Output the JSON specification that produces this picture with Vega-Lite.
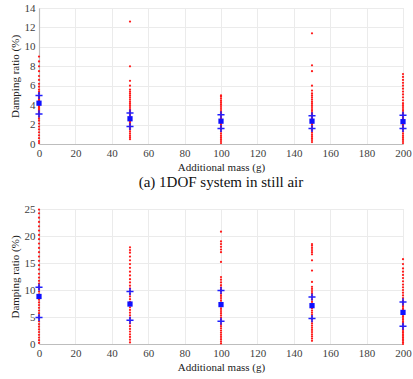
{
  "$schema": "https://vega.github.io/schema/vega-lite/v6.json",
  "padding": {"left": 8, "top": 1, "right": 10, "bottom": 0},
  "spacing": 11,
  "config": {"view": {"stroke": "#e6e6e6"}},
  "datasets": {
    "a": [
      {"m":0,"v":0.1,"k":"s"},{"m":0,"v":0.3,"k":"s"},{"m":0,"v":0.6,"k":"s"},{"m":0,"v":0.9,"k":"s"},{"m":0,"v":1.2,"k":"s"},{"m":0,"v":1.5,"k":"s"},{"m":0,"v":1.8,"k":"s"},{"m":0,"v":2.1,"k":"s"},{"m":0,"v":2.4,"k":"s"},{"m":0,"v":2.6,"k":"s"},{"m":0,"v":2.8,"k":"s"},{"m":0,"v":3.0,"k":"s"},{"m":0,"v":3.1,"k":"s"},{"m":0,"v":3.2,"k":"s"},{"m":0,"v":3.3,"k":"s"},{"m":0,"v":3.4,"k":"s"},{"m":0,"v":3.5,"k":"s"},{"m":0,"v":3.6,"k":"s"},{"m":0,"v":3.7,"k":"s"},{"m":0,"v":3.8,"k":"s"},{"m":0,"v":3.9,"k":"s"},{"m":0,"v":4.0,"k":"s"},{"m":0,"v":4.1,"k":"s"},{"m":0,"v":4.2,"k":"s"},{"m":0,"v":4.3,"k":"s"},{"m":0,"v":4.4,"k":"s"},{"m":0,"v":4.5,"k":"s"},{"m":0,"v":4.6,"k":"s"},{"m":0,"v":4.7,"k":"s"},{"m":0,"v":4.8,"k":"s"},{"m":0,"v":4.9,"k":"s"},{"m":0,"v":5.0,"k":"s"},{"m":0,"v":5.2,"k":"s"},{"m":0,"v":5.4,"k":"s"},{"m":0,"v":5.6,"k":"s"},{"m":0,"v":5.9,"k":"s"},{"m":0,"v":6.2,"k":"s"},{"m":0,"v":6.6,"k":"s"},{"m":0,"v":7.0,"k":"s"},{"m":0,"v":7.5,"k":"s"},{"m":0,"v":8.0,"k":"s"},{"m":0,"v":8.5,"k":"s"},{"m":0,"v":9.0,"k":"s"},
      {"m":50,"v":0.5,"k":"s"},{"m":50,"v":0.7,"k":"s"},{"m":50,"v":0.9,"k":"s"},{"m":50,"v":1.1,"k":"s"},{"m":50,"v":1.3,"k":"s"},{"m":50,"v":1.5,"k":"s"},{"m":50,"v":1.6,"k":"s"},{"m":50,"v":1.7,"k":"s"},{"m":50,"v":1.8,"k":"s"},{"m":50,"v":1.9,"k":"s"},{"m":50,"v":2.0,"k":"s"},{"m":50,"v":2.1,"k":"s"},{"m":50,"v":2.2,"k":"s"},{"m":50,"v":2.3,"k":"s"},{"m":50,"v":2.4,"k":"s"},{"m":50,"v":2.5,"k":"s"},{"m":50,"v":2.6,"k":"s"},{"m":50,"v":2.7,"k":"s"},{"m":50,"v":2.8,"k":"s"},{"m":50,"v":2.9,"k":"s"},{"m":50,"v":3.0,"k":"s"},{"m":50,"v":3.1,"k":"s"},{"m":50,"v":3.2,"k":"s"},{"m":50,"v":3.3,"k":"s"},{"m":50,"v":3.4,"k":"s"},{"m":50,"v":3.5,"k":"s"},{"m":50,"v":3.6,"k":"s"},{"m":50,"v":3.8,"k":"s"},{"m":50,"v":4.0,"k":"s"},{"m":50,"v":4.2,"k":"s"},{"m":50,"v":4.4,"k":"s"},{"m":50,"v":4.6,"k":"s"},{"m":50,"v":4.8,"k":"s"},{"m":50,"v":5.0,"k":"s"},{"m":50,"v":5.2,"k":"s"},{"m":50,"v":5.4,"k":"s"},{"m":50,"v":5.6,"k":"s"},{"m":50,"v":6.0,"k":"s"},{"m":50,"v":6.5,"k":"s"},{"m":50,"v":8.0,"k":"s"},{"m":50,"v":12.6,"k":"s"},
      {"m":100,"v":0.1,"k":"s"},{"m":100,"v":0.3,"k":"s"},{"m":100,"v":0.5,"k":"s"},{"m":100,"v":0.7,"k":"s"},{"m":100,"v":0.9,"k":"s"},{"m":100,"v":1.1,"k":"s"},{"m":100,"v":1.3,"k":"s"},{"m":100,"v":1.5,"k":"s"},{"m":100,"v":1.6,"k":"s"},{"m":100,"v":1.7,"k":"s"},{"m":100,"v":1.8,"k":"s"},{"m":100,"v":1.9,"k":"s"},{"m":100,"v":2.0,"k":"s"},{"m":100,"v":2.1,"k":"s"},{"m":100,"v":2.2,"k":"s"},{"m":100,"v":2.3,"k":"s"},{"m":100,"v":2.4,"k":"s"},{"m":100,"v":2.5,"k":"s"},{"m":100,"v":2.6,"k":"s"},{"m":100,"v":2.7,"k":"s"},{"m":100,"v":2.8,"k":"s"},{"m":100,"v":2.9,"k":"s"},{"m":100,"v":3.0,"k":"s"},{"m":100,"v":3.1,"k":"s"},{"m":100,"v":3.2,"k":"s"},{"m":100,"v":3.3,"k":"s"},{"m":100,"v":3.5,"k":"s"},{"m":100,"v":3.7,"k":"s"},{"m":100,"v":3.9,"k":"s"},{"m":100,"v":4.1,"k":"s"},{"m":100,"v":4.3,"k":"s"},{"m":100,"v":4.5,"k":"s"},{"m":100,"v":4.7,"k":"s"},{"m":100,"v":4.9,"k":"s"},{"m":100,"v":5.0,"k":"s"},
      {"m":150,"v":0.2,"k":"s"},{"m":150,"v":0.4,"k":"s"},{"m":150,"v":0.6,"k":"s"},{"m":150,"v":0.8,"k":"s"},{"m":150,"v":1.0,"k":"s"},{"m":150,"v":1.2,"k":"s"},{"m":150,"v":1.4,"k":"s"},{"m":150,"v":1.5,"k":"s"},{"m":150,"v":1.6,"k":"s"},{"m":150,"v":1.7,"k":"s"},{"m":150,"v":1.8,"k":"s"},{"m":150,"v":1.9,"k":"s"},{"m":150,"v":2.0,"k":"s"},{"m":150,"v":2.1,"k":"s"},{"m":150,"v":2.2,"k":"s"},{"m":150,"v":2.3,"k":"s"},{"m":150,"v":2.4,"k":"s"},{"m":150,"v":2.5,"k":"s"},{"m":150,"v":2.6,"k":"s"},{"m":150,"v":2.7,"k":"s"},{"m":150,"v":2.8,"k":"s"},{"m":150,"v":2.9,"k":"s"},{"m":150,"v":3.0,"k":"s"},{"m":150,"v":3.1,"k":"s"},{"m":150,"v":3.2,"k":"s"},{"m":150,"v":3.4,"k":"s"},{"m":150,"v":3.6,"k":"s"},{"m":150,"v":3.8,"k":"s"},{"m":150,"v":4.0,"k":"s"},{"m":150,"v":4.2,"k":"s"},{"m":150,"v":4.4,"k":"s"},{"m":150,"v":4.6,"k":"s"},{"m":150,"v":4.8,"k":"s"},{"m":150,"v":5.0,"k":"s"},{"m":150,"v":5.2,"k":"s"},{"m":150,"v":5.5,"k":"s"},{"m":150,"v":6.0,"k":"s"},{"m":150,"v":7.5,"k":"s"},{"m":150,"v":8.1,"k":"s"},{"m":150,"v":11.4,"k":"s"},
      {"m":200,"v":0.1,"k":"s"},{"m":200,"v":0.3,"k":"s"},{"m":200,"v":0.5,"k":"s"},{"m":200,"v":0.7,"k":"s"},{"m":200,"v":0.9,"k":"s"},{"m":200,"v":1.1,"k":"s"},{"m":200,"v":1.3,"k":"s"},{"m":200,"v":1.5,"k":"s"},{"m":200,"v":1.6,"k":"s"},{"m":200,"v":1.7,"k":"s"},{"m":200,"v":1.8,"k":"s"},{"m":200,"v":1.9,"k":"s"},{"m":200,"v":2.0,"k":"s"},{"m":200,"v":2.1,"k":"s"},{"m":200,"v":2.2,"k":"s"},{"m":200,"v":2.3,"k":"s"},{"m":200,"v":2.4,"k":"s"},{"m":200,"v":2.5,"k":"s"},{"m":200,"v":2.6,"k":"s"},{"m":200,"v":2.7,"k":"s"},{"m":200,"v":2.8,"k":"s"},{"m":200,"v":2.9,"k":"s"},{"m":200,"v":3.0,"k":"s"},{"m":200,"v":3.1,"k":"s"},{"m":200,"v":3.2,"k":"s"},{"m":200,"v":3.4,"k":"s"},{"m":200,"v":3.6,"k":"s"},{"m":200,"v":3.8,"k":"s"},{"m":200,"v":4.0,"k":"s"},{"m":200,"v":4.2,"k":"s"},{"m":200,"v":4.5,"k":"s"},{"m":200,"v":4.8,"k":"s"},{"m":200,"v":5.1,"k":"s"},{"m":200,"v":5.4,"k":"s"},{"m":200,"v":5.7,"k":"s"},{"m":200,"v":6.0,"k":"s"},{"m":200,"v":6.3,"k":"s"},{"m":200,"v":6.6,"k":"s"},{"m":200,"v":6.9,"k":"s"},{"m":200,"v":7.2,"k":"s"},
      {"m":0,"v":4.2,"k":"mean"},{"m":0,"v":5.0,"k":"std"},{"m":0,"v":3.1,"k":"std"},
      {"m":50,"v":2.6,"k":"mean"},{"m":50,"v":3.2,"k":"std"},{"m":50,"v":1.8,"k":"std"},
      {"m":100,"v":2.35,"k":"mean"},{"m":100,"v":3.0,"k":"std"},{"m":100,"v":1.6,"k":"std"},
      {"m":150,"v":2.35,"k":"mean"},{"m":150,"v":2.9,"k":"std"},{"m":150,"v":1.6,"k":"std"},
      {"m":200,"v":2.3,"k":"mean"},{"m":200,"v":2.95,"k":"std"},{"m":200,"v":1.6,"k":"std"}
    ],
    "b": [
      {"m":0,"v":0.2,"k":"s"},{"m":0,"v":0.7,"k":"s"},{"m":0,"v":1.2,"k":"s"},{"m":0,"v":1.7,"k":"s"},{"m":0,"v":2.2,"k":"s"},{"m":0,"v":2.7,"k":"s"},{"m":0,"v":3.2,"k":"s"},{"m":0,"v":3.7,"k":"s"},{"m":0,"v":4.2,"k":"s"},{"m":0,"v":4.7,"k":"s"},{"m":0,"v":5.2,"k":"s"},{"m":0,"v":5.7,"k":"s"},{"m":0,"v":6.2,"k":"s"},{"m":0,"v":6.7,"k":"s"},{"m":0,"v":7.2,"k":"s"},{"m":0,"v":7.7,"k":"s"},{"m":0,"v":8.2,"k":"s"},{"m":0,"v":8.7,"k":"s"},{"m":0,"v":9.2,"k":"s"},{"m":0,"v":9.7,"k":"s"},{"m":0,"v":10.2,"k":"s"},{"m":0,"v":10.7,"k":"s"},{"m":0,"v":11.2,"k":"s"},{"m":0,"v":11.7,"k":"s"},{"m":0,"v":12.3,"k":"s"},{"m":0,"v":13.0,"k":"s"},{"m":0,"v":13.8,"k":"s"},{"m":0,"v":14.6,"k":"s"},{"m":0,"v":15.4,"k":"s"},{"m":0,"v":16.2,"k":"s"},{"m":0,"v":17.0,"k":"s"},{"m":0,"v":17.8,"k":"s"},{"m":0,"v":18.6,"k":"s"},{"m":0,"v":19.4,"k":"s"},{"m":0,"v":20.2,"k":"s"},{"m":0,"v":21.0,"k":"s"},{"m":0,"v":21.8,"k":"s"},{"m":0,"v":22.6,"k":"s"},{"m":0,"v":23.4,"k":"s"},{"m":0,"v":24.2,"k":"s"},{"m":0,"v":24.9,"k":"s"},
      {"m":50,"v":0.3,"k":"s"},{"m":50,"v":0.8,"k":"s"},{"m":50,"v":1.3,"k":"s"},{"m":50,"v":1.8,"k":"s"},{"m":50,"v":2.3,"k":"s"},{"m":50,"v":2.8,"k":"s"},{"m":50,"v":3.3,"k":"s"},{"m":50,"v":3.8,"k":"s"},{"m":50,"v":4.3,"k":"s"},{"m":50,"v":4.8,"k":"s"},{"m":50,"v":5.3,"k":"s"},{"m":50,"v":5.8,"k":"s"},{"m":50,"v":6.3,"k":"s"},{"m":50,"v":6.8,"k":"s"},{"m":50,"v":7.3,"k":"s"},{"m":50,"v":7.8,"k":"s"},{"m":50,"v":8.3,"k":"s"},{"m":50,"v":8.8,"k":"s"},{"m":50,"v":9.3,"k":"s"},{"m":50,"v":9.8,"k":"s"},{"m":50,"v":10.3,"k":"s"},{"m":50,"v":10.8,"k":"s"},{"m":50,"v":11.4,"k":"s"},{"m":50,"v":12.0,"k":"s"},{"m":50,"v":12.7,"k":"s"},{"m":50,"v":13.4,"k":"s"},{"m":50,"v":14.1,"k":"s"},{"m":50,"v":14.8,"k":"s"},{"m":50,"v":15.5,"k":"s"},{"m":50,"v":16.2,"k":"s"},{"m":50,"v":16.9,"k":"s"},{"m":50,"v":17.4,"k":"s"},{"m":50,"v":17.9,"k":"s"},
      {"m":100,"v":0.1,"k":"s"},{"m":100,"v":0.5,"k":"s"},{"m":100,"v":0.9,"k":"s"},{"m":100,"v":1.3,"k":"s"},{"m":100,"v":1.7,"k":"s"},{"m":100,"v":2.1,"k":"s"},{"m":100,"v":2.5,"k":"s"},{"m":100,"v":2.9,"k":"s"},{"m":100,"v":3.3,"k":"s"},{"m":100,"v":3.7,"k":"s"},{"m":100,"v":4.1,"k":"s"},{"m":100,"v":4.5,"k":"s"},{"m":100,"v":4.9,"k":"s"},{"m":100,"v":5.3,"k":"s"},{"m":100,"v":5.7,"k":"s"},{"m":100,"v":6.1,"k":"s"},{"m":100,"v":6.5,"k":"s"},{"m":100,"v":6.9,"k":"s"},{"m":100,"v":7.3,"k":"s"},{"m":100,"v":7.7,"k":"s"},{"m":100,"v":8.1,"k":"s"},{"m":100,"v":8.5,"k":"s"},{"m":100,"v":8.9,"k":"s"},{"m":100,"v":9.3,"k":"s"},{"m":100,"v":9.7,"k":"s"},{"m":100,"v":10.1,"k":"s"},{"m":100,"v":10.5,"k":"s"},{"m":100,"v":10.9,"k":"s"},{"m":100,"v":11.4,"k":"s"},{"m":100,"v":11.9,"k":"s"},{"m":100,"v":12.4,"k":"s"},{"m":100,"v":15.2,"k":"s"},{"m":100,"v":17.0,"k":"s"},{"m":100,"v":17.5,"k":"s"},{"m":100,"v":18.0,"k":"s"},{"m":100,"v":18.5,"k":"s"},{"m":100,"v":19.0,"k":"s"},{"m":100,"v":20.8,"k":"s"},
      {"m":150,"v":0.6,"k":"s"},{"m":150,"v":1.0,"k":"s"},{"m":150,"v":1.4,"k":"s"},{"m":150,"v":1.8,"k":"s"},{"m":150,"v":2.2,"k":"s"},{"m":150,"v":2.6,"k":"s"},{"m":150,"v":3.0,"k":"s"},{"m":150,"v":3.4,"k":"s"},{"m":150,"v":3.8,"k":"s"},{"m":150,"v":4.2,"k":"s"},{"m":150,"v":4.6,"k":"s"},{"m":150,"v":5.0,"k":"s"},{"m":150,"v":5.4,"k":"s"},{"m":150,"v":5.8,"k":"s"},{"m":150,"v":6.2,"k":"s"},{"m":150,"v":6.6,"k":"s"},{"m":150,"v":7.0,"k":"s"},{"m":150,"v":7.4,"k":"s"},{"m":150,"v":7.8,"k":"s"},{"m":150,"v":8.2,"k":"s"},{"m":150,"v":8.6,"k":"s"},{"m":150,"v":9.0,"k":"s"},{"m":150,"v":9.4,"k":"s"},{"m":150,"v":9.8,"k":"s"},{"m":150,"v":10.2,"k":"s"},{"m":150,"v":10.6,"k":"s"},{"m":150,"v":11.5,"k":"s"},{"m":150,"v":13.6,"k":"s"},{"m":150,"v":15.5,"k":"s"},{"m":150,"v":16.6,"k":"s"},{"m":150,"v":17.0,"k":"s"},{"m":150,"v":17.4,"k":"s"},{"m":150,"v":17.8,"k":"s"},{"m":150,"v":18.2,"k":"s"},{"m":150,"v":18.5,"k":"s"},
      {"m":200,"v":0.0,"k":"s"},{"m":200,"v":0.3,"k":"s"},{"m":200,"v":0.6,"k":"s"},{"m":200,"v":0.9,"k":"s"},{"m":200,"v":1.2,"k":"s"},{"m":200,"v":1.5,"k":"s"},{"m":200,"v":1.8,"k":"s"},{"m":200,"v":2.1,"k":"s"},{"m":200,"v":2.4,"k":"s"},{"m":200,"v":2.7,"k":"s"},{"m":200,"v":3.0,"k":"s"},{"m":200,"v":3.3,"k":"s"},{"m":200,"v":3.6,"k":"s"},{"m":200,"v":3.9,"k":"s"},{"m":200,"v":4.2,"k":"s"},{"m":200,"v":4.5,"k":"s"},{"m":200,"v":4.8,"k":"s"},{"m":200,"v":5.1,"k":"s"},{"m":200,"v":5.4,"k":"s"},{"m":200,"v":5.7,"k":"s"},{"m":200,"v":6.0,"k":"s"},{"m":200,"v":6.3,"k":"s"},{"m":200,"v":6.6,"k":"s"},{"m":200,"v":6.9,"k":"s"},{"m":200,"v":7.2,"k":"s"},{"m":200,"v":7.5,"k":"s"},{"m":200,"v":7.8,"k":"s"},{"m":200,"v":8.1,"k":"s"},{"m":200,"v":8.5,"k":"s"},{"m":200,"v":9.0,"k":"s"},{"m":200,"v":9.5,"k":"s"},{"m":200,"v":10.0,"k":"s"},{"m":200,"v":10.5,"k":"s"},{"m":200,"v":11.0,"k":"s"},{"m":200,"v":11.6,"k":"s"},{"m":200,"v":12.2,"k":"s"},{"m":200,"v":12.8,"k":"s"},{"m":200,"v":13.4,"k":"s"},{"m":200,"v":14.0,"k":"s"},{"m":200,"v":14.8,"k":"s"},{"m":200,"v":15.7,"k":"s"},
      {"m":0,"v":8.8,"k":"mean"},{"m":0,"v":10.5,"k":"std"},{"m":0,"v":4.9,"k":"std"},
      {"m":50,"v":7.4,"k":"mean"},{"m":50,"v":9.7,"k":"std"},{"m":50,"v":4.4,"k":"std"},
      {"m":100,"v":7.3,"k":"mean"},{"m":100,"v":9.9,"k":"std"},{"m":100,"v":4.2,"k":"std"},
      {"m":150,"v":7.1,"k":"mean"},{"m":150,"v":8.7,"k":"std"},{"m":150,"v":4.7,"k":"std"},
      {"m":200,"v":5.85,"k":"mean"},{"m":200,"v":7.8,"k":"std"},{"m":200,"v":3.3,"k":"std"}
    ]
  },
  "vconcat": [
    {
      "width": 364, "height": 136,
      "title": {"text": "(a) 1DOF system in still air", "orient": "bottom", "offset": 3, "font": "Liberation Serif", "fontSize": 15, "fontWeight": "normal", "color": "#111111"},
      "data": {"name": "a"},
      "mark": {"type": "point", "strokeWidth": 1.5, "opacity": 1},
      "encoding": {
        "x": {"field": "m", "type": "quantitative", "scale": {"domain": [0, 200], "nice": false},
          "axis": {"values": [0,20,40,60,80,100,120,140,160,180,200], "title": "Additional mass (g)", "labelOverlap": false, "labelFlush": false, "labelFont": "Liberation Serif", "titleFont": "Liberation Serif", "labelFontSize": 11, "titleFontSize": 11, "titleFontWeight": "normal", "labelColor": "#404040", "titleColor": "#222222", "gridColor": "#ebebeb", "domainColor": "#bdbdbd", "domainWidth": 1.2, "ticks": false, "labelPadding": 3, "titlePadding": 3}},
        "y": {"field": "v", "type": "quantitative", "scale": {"domain": [0, 14], "nice": false},
          "axis": {"values": [0,2,4,6,8,10,12,14], "title": "Damping ratio (%)", "labelOverlap": false, "labelFlush": false, "labelFont": "Liberation Serif", "titleFont": "Liberation Serif", "labelFontSize": 11, "titleFontSize": 11, "titleFontWeight": "normal", "labelColor": "#404040", "titleColor": "#222222", "gridColor": "#ebebeb", "domainColor": "#bdbdbd", "domainWidth": 1.2, "ticks": false, "labelPadding": 4, "titlePadding": 4}},
        "shape": {"field": "k", "type": "nominal", "scale": {"domain": ["s", "mean", "std"], "range": ["circle", "square", "M-1,0H1M0,-1V1"]}, "legend": null},
        "size": {"field": "k", "type": "nominal", "scale": {"domain": ["s", "mean", "std"], "range": [5, 50, 300]}, "legend": null},
        "fill": {"field": "k", "type": "nominal", "scale": {"domain": ["s", "mean", "std"], "range": ["#ff1a1a", "#1010ff", "transparent"]}, "legend": null},
        "stroke": {"field": "k", "type": "nominal", "scale": {"domain": ["s", "mean", "std"], "range": ["transparent", "transparent", "#2020ff"]}, "legend": null}
      }
    },
    {
      "width": 364, "height": 135,
      "data": {"name": "b"},
      "mark": {"type": "point", "strokeWidth": 1.5, "opacity": 1},
      "encoding": {
        "x": {"field": "m", "type": "quantitative", "scale": {"domain": [0, 200], "nice": false},
          "axis": {"values": [0,20,40,60,80,100,120,140,160,180,200], "title": "Additional mass (g)", "labelOverlap": false, "labelFlush": false, "labelFont": "Liberation Serif", "titleFont": "Liberation Serif", "labelFontSize": 11, "titleFontSize": 11, "titleFontWeight": "normal", "labelColor": "#404040", "titleColor": "#222222", "gridColor": "#ebebeb", "domainColor": "#bdbdbd", "domainWidth": 1.2, "ticks": false, "labelPadding": 3, "titlePadding": 3}},
        "y": {"field": "v", "type": "quantitative", "scale": {"domain": [0, 25], "nice": false},
          "axis": {"values": [0,5,10,15,20,25], "title": "Damping ratio (%)", "labelOverlap": false, "labelFlush": false, "labelFont": "Liberation Serif", "titleFont": "Liberation Serif", "labelFontSize": 11, "titleFontSize": 11, "titleFontWeight": "normal", "labelColor": "#404040", "titleColor": "#222222", "gridColor": "#ebebeb", "domainColor": "#bdbdbd", "domainWidth": 1.2, "ticks": false, "labelPadding": 4, "titlePadding": 4}},
        "shape": {"field": "k", "type": "nominal", "scale": {"domain": ["s", "mean", "std"], "range": ["circle", "square", "M-1,0H1M0,-1V1"]}, "legend": null},
        "size": {"field": "k", "type": "nominal", "scale": {"domain": ["s", "mean", "std"], "range": [5, 50, 300]}, "legend": null},
        "fill": {"field": "k", "type": "nominal", "scale": {"domain": ["s", "mean", "std"], "range": ["#ff1a1a", "#1010ff", "transparent"]}, "legend": null},
        "stroke": {"field": "k", "type": "nominal", "scale": {"domain": ["s", "mean", "std"], "range": ["transparent", "transparent", "#2020ff"]}, "legend": null}
      }
    }
  ],
  "resolve": {"scale": {"shape": "independent", "size": "independent", "fill": "independent", "stroke": "independent"}}
}
